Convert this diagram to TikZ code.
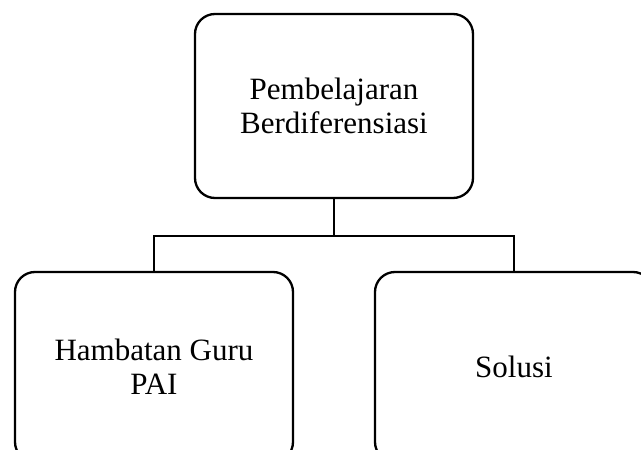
\documentclass[tikz,border=0pt]{standalone}
\usepackage{fontspec}
\setmainfont{Liberation Serif}
\begin{document}
\begin{tikzpicture}[x=1pt,y=-1pt,
  box/.style={draw, line width=2.3pt, rounded corners=20pt, minimum width=278pt, inner sep=0pt, align=center,
    font=\fontsize{31}{34}\selectfont},
  link/.style={line width=2.3pt}]
\clip (0,0) rectangle (641,450);
\useasboundingbox (0,0) rectangle (641,450);
\node[box, minimum height=184pt] (top) at (334,106) {Pembelajaran\\Berdiferensiasi};
\node[box, minimum height=190pt] (left) at (154,367) {Hambatan Guru\\PAI};
\node[box, minimum height=190pt] (right) at (514,367) {Solusi};
\coordinate (bus) at (334,236);
\draw[link] (top.south) -- (bus);
\draw[link] (left.north) |- (bus) -| (right.north);
\end{tikzpicture}
\end{document}
